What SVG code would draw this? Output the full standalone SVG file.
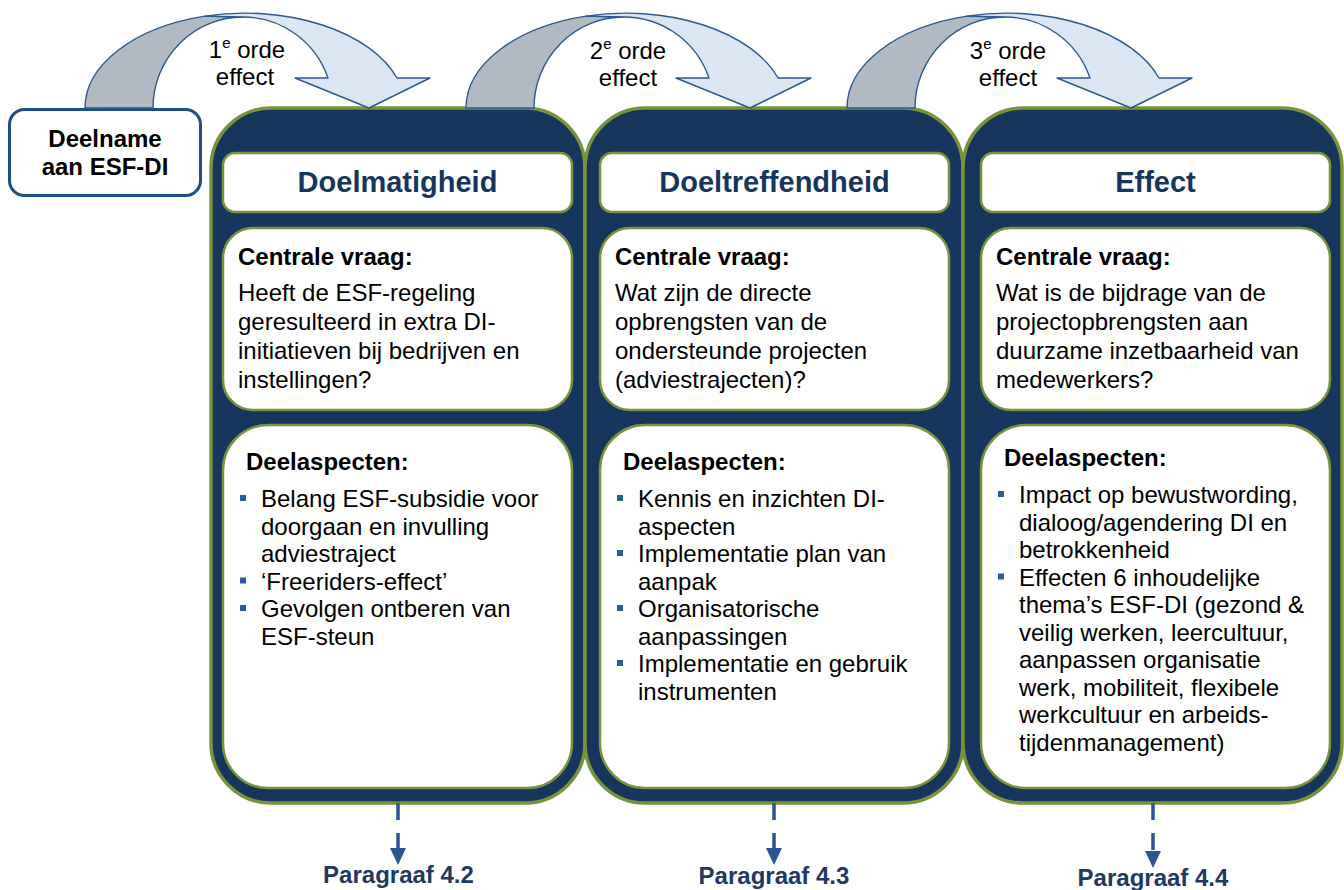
<svg xmlns="http://www.w3.org/2000/svg" xmlns:xlink="http://www.w3.org/1999/xlink" width="1344" height="890" viewBox="0 0 1344 890">
  <style>
    text { font-family: "Liberation Sans", Arial, sans-serif; }
    .col { fill: #17365d; stroke: #77933c; stroke-width: 3.5; }
    .box { fill: #ffffff; stroke: #77933c; stroke-width: 2.5; }
    .title { font-size: 29px; font-weight: bold; fill: #17365d; text-anchor: middle; }
    .head { font-size: 24px; font-weight: bold; fill: #000000; }
    .body { font-size: 24px; fill: #000000; }
    .lbl { font-size: 24px; fill: #000000; text-anchor: middle; }
    .para { font-size: 24px; font-weight: bold; fill: #1f3864; text-anchor: middle; }
    .back { fill: #b1b9c3; stroke: #2c5a8f; stroke-width: 1.4; stroke-linejoin: round; }
    .front { fill: #dce6f2; stroke: #2c5a8f; stroke-width: 1.4; stroke-linejoin: round; }
    .dash { stroke: #2a5591; stroke-width: 3.5; stroke-dasharray: 17 13; fill: none; }
    .tip { fill: #2a5591; }
    .bullet { fill: #2c5d9a; }
  </style>
  <defs>
    <!-- curved "effect" arrow: grey back band rising from the base, light front band ending in the head -->
    <g id="curved">
      <path class="back" d="M85,108 A160.6,95 0 0 1 205,16.1 L243,17 A90,91 0 0 0 153,108 Z"/>
      <path class="front" d="M205,16.1 A160.6,95 0 0 1 397,78 L430,78 L369,108 L295,78 L328,78 A90,91 0 0 0 243,17 Z"/>
    </g>
    <rect id="blt" class="bullet" x="0" y="0" width="6" height="6"/>
  </defs>

  <!-- columns -->
  <g id="doelmatigheid">
    <rect class="col" x="211" y="108" width="374" height="695" rx="60" ry="60"/>
    <rect class="box" x="223" y="153" width="349" height="59" rx="12" ry="12"/>
    <text class="title" x="397.5" y="192">Doelmatigheid</text>
    <rect class="box" x="223" y="228" width="349" height="182" rx="30" ry="30"/>
    <text class="head" x="238" y="265">Centrale vraag:</text>
    <text class="body" x="238" y="301">Heeft de ESF-regeling</text>
    <text class="body" x="238" y="330">geresulteerd in extra DI-</text>
    <text class="body" x="238" y="359">initiatieven bij bedrijven en</text>
    <text class="body" x="238" y="388">instellingen?</text>
    <rect class="box" x="223" y="425" width="349" height="363" rx="45" ry="45"/>
    <text class="head" x="246" y="470">Deelaspecten:</text>
    <use xlink:href="#blt" x="240" y="495"/>
    <text class="body" x="261" y="507">Belang ESF-subsidie voor</text>
    <text class="body" x="261" y="534.5">doorgaan en invulling</text>
    <text class="body" x="261" y="562">adviestraject</text>
    <use xlink:href="#blt" x="240" y="577.5"/>
    <text class="body" x="261" y="589.5">‘Freeriders-effect’</text>
    <use xlink:href="#blt" x="240" y="605"/>
    <text class="body" x="261" y="617">Gevolgen ontberen van</text>
    <text class="body" x="261" y="644.5">ESF-steun</text>
  </g>

  <g id="doeltreffendheid">
    <rect class="col" x="585" y="108" width="378" height="695" rx="60" ry="60"/>
    <rect class="box" x="600" y="153" width="349" height="59" rx="12" ry="12"/>
    <text class="title" x="774.5" y="192">Doeltreffendheid</text>
    <rect class="box" x="600" y="228" width="349" height="182" rx="30" ry="30"/>
    <text class="head" x="615" y="265">Centrale vraag:</text>
    <text class="body" x="615" y="301">Wat zijn de directe</text>
    <text class="body" x="615" y="330">opbrengsten van de</text>
    <text class="body" x="615" y="359">ondersteunde projecten</text>
    <text class="body" x="615" y="388">(adviestrajecten)?</text>
    <rect class="box" x="600" y="425" width="349" height="363" rx="45" ry="45"/>
    <text class="head" x="623" y="470">Deelaspecten:</text>
    <use xlink:href="#blt" x="617" y="495"/>
    <text class="body" x="638" y="507">Kennis en inzichten DI-</text>
    <text class="body" x="638" y="534.5">aspecten</text>
    <use xlink:href="#blt" x="617" y="550"/>
    <text class="body" x="638" y="562">Implementatie plan van</text>
    <text class="body" x="638" y="589.5">aanpak</text>
    <use xlink:href="#blt" x="617" y="605"/>
    <text class="body" x="638" y="617">Organisatorische</text>
    <text class="body" x="638" y="644.5">aanpassingen</text>
    <use xlink:href="#blt" x="617" y="660"/>
    <text class="body" x="638" y="672">Implementatie en gebruik</text>
    <text class="body" x="638" y="699.5">instrumenten</text>
  </g>

  <g id="effect">
    <rect class="col" x="963" y="108" width="379" height="695" rx="60" ry="60"/>
    <rect class="box" x="981" y="153" width="349" height="59" rx="12" ry="12"/>
    <text class="title" x="1155.5" y="192">Effect</text>
    <rect class="box" x="981" y="228" width="349" height="182" rx="30" ry="30"/>
    <text class="head" x="996" y="265">Centrale vraag:</text>
    <text class="body" x="996" y="301">Wat is de bijdrage van de</text>
    <text class="body" x="996" y="330">projectopbrengsten aan</text>
    <text class="body" x="996" y="359">duurzame inzetbaarheid van</text>
    <text class="body" x="996" y="388">medewerkers?</text>
    <rect class="box" x="981" y="425" width="349" height="363" rx="45" ry="45"/>
    <text class="head" x="1004" y="466">Deelaspecten:</text>
    <use xlink:href="#blt" x="998" y="491"/>
    <text class="body" x="1019" y="503">Impact op bewustwording,</text>
    <text class="body" x="1019" y="530.5">dialoog/agendering DI en</text>
    <text class="body" x="1019" y="558">betrokkenheid</text>
    <use xlink:href="#blt" x="998" y="573.5"/>
    <text class="body" x="1019" y="585.5">Effecten 6 inhoudelijke</text>
    <text class="body" x="1019" y="613">thema’s ESF-DI (gezond &amp;</text>
    <text class="body" x="1019" y="640.5">veilig werken, leercultuur,</text>
    <text class="body" x="1019" y="668">aanpassen organisatie</text>
    <text class="body" x="1019" y="695.5">werk, mobiliteit, flexibele</text>
    <text class="body" x="1019" y="723">werkcultuur en arbeids-</text>
    <text class="body" x="1019" y="750.5">tijdenmanagement)</text>
  </g>

  <g id="deelname">
    <rect x="9.5" y="109.5" width="191" height="86" rx="15" ry="15" fill="#ffffff" stroke="#1f4e86" stroke-width="3"/>
    <text class="head" x="105" y="147" text-anchor="middle">Deelname</text>
    <text class="head" x="105" y="175" text-anchor="middle">aan ESF-DI</text>
  </g>

  <!-- connectors -->
  <g id="connectors">
    <use xlink:href="#curved"/>
    <use xlink:href="#curved" x="381"/>
    <use xlink:href="#curved" x="762"/>

    <line class="dash" x1="398" y1="803" x2="398" y2="849"/>
    <polygon class="tip" points="390,848 406,848 398,865"/>
    <line class="dash" x1="774" y1="803" x2="774" y2="849"/>
    <polygon class="tip" points="766,848 782,848 774,865"/>
    <line class="dash" x1="1153" y1="803" x2="1153" y2="852"/>
    <polygon class="tip" points="1145,851 1161,851 1153,868"/>
  </g>

  <!-- arrow and section labels -->
  <g id="labels">
    <text class="lbl" x="247" y="58">1<tspan font-size="15" dy="-10">e</tspan><tspan dy="10"> orde</tspan></text>
    <text class="lbl" x="245" y="85">effect</text>
    <text class="lbl" x="628" y="59">2<tspan font-size="15" dy="-10">e</tspan><tspan dy="10"> orde</tspan></text>
    <text class="lbl" x="628" y="86">effect</text>
    <text class="lbl" x="1008" y="59">3<tspan font-size="15" dy="-10">e</tspan><tspan dy="10"> orde</tspan></text>
    <text class="lbl" x="1008" y="86">effect</text>

    <text class="para" x="398.5" y="883">Paragraaf 4.2</text>
    <text class="para" x="774" y="884">Paragraaf 4.3</text>
    <text class="para" x="1153" y="886">Paragraaf 4.4</text>
  </g>
</svg>
